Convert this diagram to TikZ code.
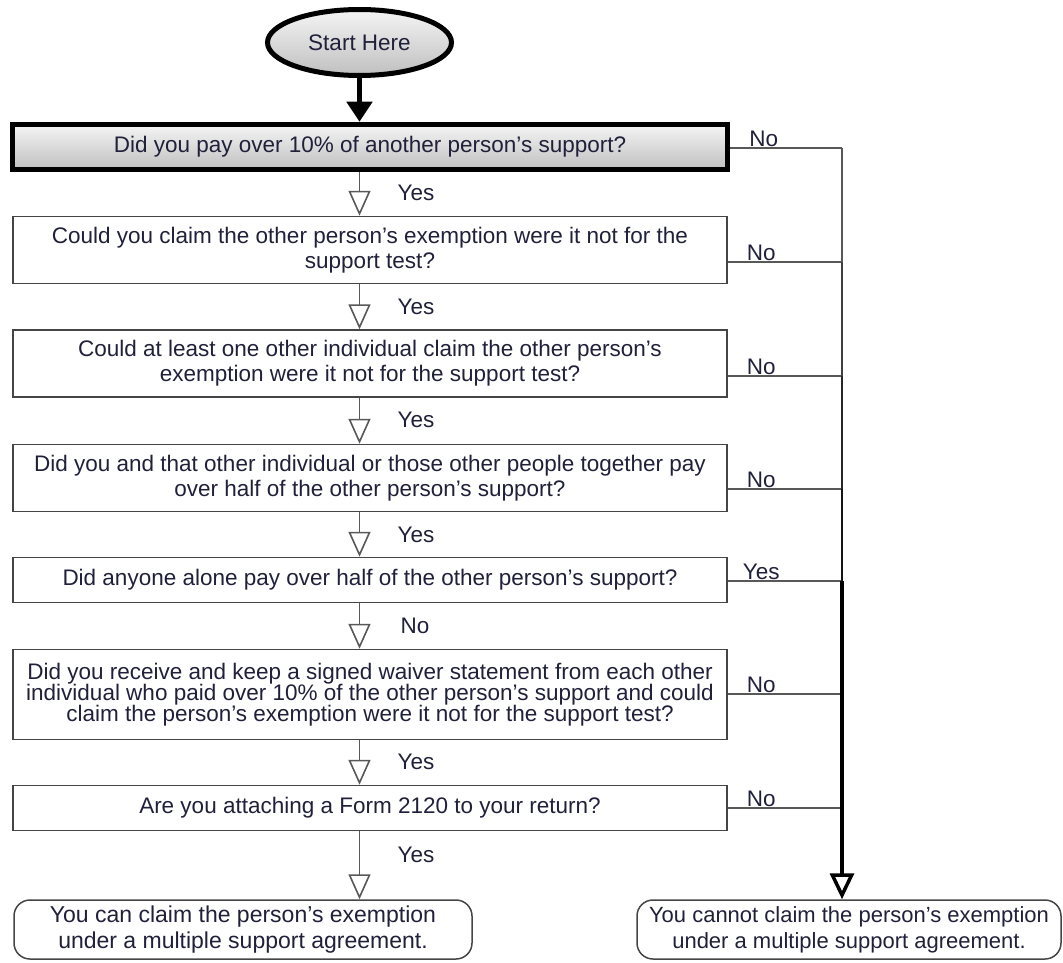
\documentclass[tikz,border=0pt]{standalone}
\usepackage{fontspec}
\setmainfont{Liberation Sans}
\usepackage{xcolor}
\usetikzlibrary{arrows.meta,shapes.geometric}

\definecolor{boxgray}{HTML}{454545}
\definecolor{linegray}{HTML}{585858}
\definecolor{txtblue}{HTML}{20203A}

\tikzset{
  qbox/.style={draw=boxgray,line width=1.5pt,minimum width=714pt,align=center,
    inner sep=0pt,text=txtblue,font=\fontsize{22.5}{25}\selectfont},
  endbox/.style={draw=boxgray,line width=1.5pt,rounded corners=16pt,minimum height=59pt,
    align=center,inner sep=0pt,text=txtblue,font=\fontsize{23}{26}\selectfont},
  ans/.style={text=txtblue,font=\fontsize{22.5}{25}\selectfont,inner sep=1pt},
  flow/.style={draw=linegray,line width=1.6pt,-{Triangle[width=22pt,length=25pt,fill=white]}},
  nline/.style={draw=linegray,line width=1.5pt},
}

\begin{document}
\begin{tikzpicture}[x=1pt,y=-1pt]
    \useasboundingbox (0,0) rectangle (1063,963);
    \def\bx{370}\def\sx{842}
    % Start
    \node[ellipse,draw=black,line width=5pt,minimum width=184pt,minimum height=66pt,
      top color=gray!8,bottom color=gray!50,text=txtblue,
      font=\fontsize{22.5}{25}\selectfont] (start) at (359.5,42.5) {Start Here};
    % Questions
    \node[qbox,draw=black,line width=5.5pt,minimum width=715pt,minimum height=45pt,
      top color=gray!8,bottom color=gray!50] (q1) at (\bx,147)
      {Did you pay over 10\% of another person’s support?};
    \node[qbox,minimum height=67pt] (q2) at (\bx,250)
      {Could you claim the other person’s exemption were it not for the\\support test?};
    \node[qbox,minimum height=67pt] (q3) at (\bx,363.5)
      {Could at least one other individual claim the other person’s\\exemption were it not for the support test?};
    \node[qbox,minimum height=67pt] (q4) at (\bx,478)
      {Did you and that other individual or those other people together pay\\over half of the other person’s support?};
    \node[qbox,minimum height=45pt] (q5) at (\bx,580)
      {Did anyone alone pay over half of the other person’s support?};
    \node[qbox,minimum height=90pt,font=\fontsize{22.5}{21}\selectfont] (q6) at (\bx,694.5)
      {Did you receive and keep a signed waiver statement from each other\\individual who paid over 10\% of the other person’s support and could\\claim the person’s exemption were it not for the support test?};
    \node[qbox,minimum height=45pt] (q7) at (\bx,808)
      {Are you attaching a Form 2120 to your return?};
    % Results
    \node[endbox,minimum width=458pt] (can) at (243,929.5)
      {You can claim the person’s exemption\\under a multiple support agreement.};
    \node[endbox,minimum width=424pt,font=\fontsize{22}{26}\selectfont] (cannot) at (849,929.5)
      {You cannot claim the person’s exemption\\under a multiple support agreement.};
    % Yes path
    \draw[line width=5pt,-{Triangle[width=25pt,length=20pt]}] (start) -- (q1.north -| start);
    \draw[flow] (q1.south -| start) -- (q2.north -| start);
    \draw[flow] (q2.south -| start) -- (q3.north -| start);
    \draw[flow] (q3.south -| start) -- (q4.north -| start);
    \draw[flow] (q4.south -| start) -- (q5.north -| start);
    \draw[flow] (q5.south -| start) -- (q6.north -| start);
    \draw[flow] (q6.south -| start) -- (q7.north -| start);
    \draw[flow] (q7.south -| start) -- (can.north -| start);
    \node[ans] (y1) at (416,193) {Yes};
    \node[ans] (y2) at (416,307) {Yes};
    \node[ans] (y3) at (416,420) {Yes};
    \node[ans] (y4) at (416,535) {Yes};
    \node[ans] (n5) at (415,626) {No};
    \node[ans] (y6) at (416,762) {Yes};
    \node[ans] (y7) at (416,855) {Yes};
    % Junctions on the right
    \coordinate (j1) at (\sx,148);
    \coordinate (j2) at (\sx,262);
    \coordinate (j3) at (\sx,376);
    \coordinate (j4) at (\sx,489);
    \coordinate (j5) at (\sx,581);
    \coordinate (j6) at (\sx,694);
    \coordinate (j7) at (\sx,808);
    \draw[nline] (q1.east |- j1) -- (j1);
    \draw[nline] (q2.east |- j2) -- (j2);
    \draw[nline] (q3.east |- j3) -- (j3);
    \draw[nline] (q4.east |- j4) -- (j4);
    \draw[nline] (q5.east |- j5) -- (j5);
    \draw[nline] (q6.east |- j6) -- (j6);
    \draw[nline] (q7.east |- j7) -- (j7);
    \node[ans,anchor=south west] (n1) at ([xshift=18pt]q1.east |- j1) {No};
    \node[ans,anchor=south west] (n2) at ([xshift=18pt]q2.east |- j2) {No};
    \node[ans,anchor=south west] (n3) at ([xshift=18pt]q3.east |- j3) {No};
    \node[ans,anchor=south west] (n4) at ([xshift=18pt]q4.east |- j4) {No};
    \node[ans,anchor=south west] (y5) at ([xshift=14pt]q5.east |- j5) {Yes};
    \node[ans,anchor=south west] (n6) at ([xshift=18pt]q6.east |- j6) {No};
    \node[ans,anchor=south west] (n7) at ([xshift=18pt]q7.east |- j7) {No};
    % Spine gets heavier downwards
    \draw[line width=1.5pt,draw=linegray] (j1) -- (j2);
    \draw[line width=2.2pt,draw=black!75] (j2) -- (j3);
    \draw[line width=2.6pt,draw=black!85] (j3) -- (j4);
    \draw[line width=2.9pt,draw=black!92] (j4) -- (j5);
    \draw[line width=3.1pt,draw=black] (j5) -- (j6);
    \draw[line width=3.3pt,draw=black] (j6) -- (j7);
    \draw[line width=3.5pt,-{Triangle[width=24pt,length=26pt,fill=white]}] (j7) -- (j7 |- cannot.north);
  \end{tikzpicture}
\end{document}
